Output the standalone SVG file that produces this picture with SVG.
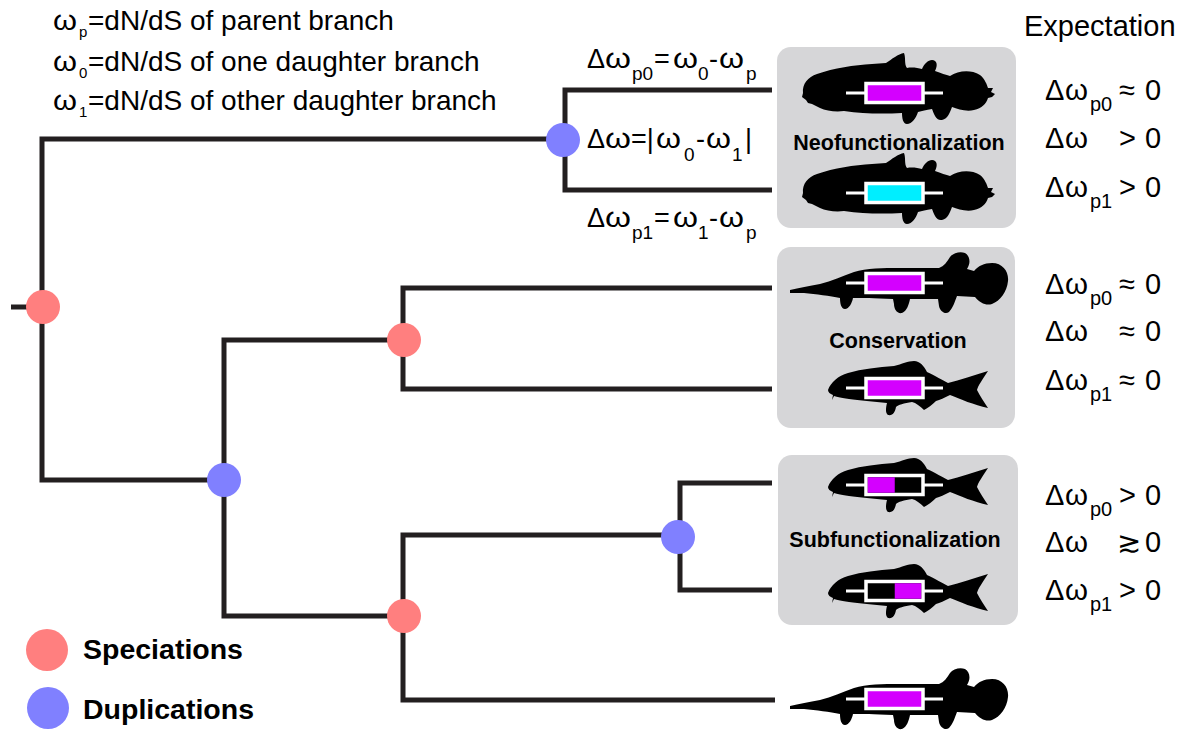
<svg xmlns="http://www.w3.org/2000/svg" width="1199" height="730" viewBox="0 0 1199 730">
  <style>
    text { font-family: "Liberation Sans", Arial, "DejaVu Sans", sans-serif; fill: #000; }
    .def { font-size: 28px; }
    .lbl { font-size: 27px; }
    .exp { font-size: 29px; }
    .sub { font-size: 15px; }
    .sub19 { font-size: 19px; }
    .sub20 { font-size: 20px; }
    .boxlbl { font-size: 21.5px; font-weight: bold; text-anchor: middle; }
    .leg { font-size: 28.5px; font-weight: bold; }
    .edge { fill: none; stroke: #231f20; stroke-width: 5; stroke-linejoin: miter; stroke-linecap: butt; }
    .spec { fill: #ff7f7f; }
    .dup { fill: #8080ff; }
    .panel { fill: #d6d6d8; }
    .fish { fill: #000; }
    .gline { stroke: #fff; stroke-width: 3; }
    .gbox { stroke: #fff; stroke-width: 3.5; }
  </style>
  <defs>
    <!-- coelacanth silhouette, origin at gene centre -->
    <path id="coel" class="fish" d="M-91,0 C-92,-9 -86,-16 -77,-19 C-60,-25 -40,-28 -22,-29 L-8,-30 C-2,-34 4,-39 10,-40 C12,-35 10,-29 13,-25 C18,-26 24,-25 28,-24 C30,-29 34,-33 38,-33 C43,-33 44,-28 41,-22 C47,-20 52,-18 56,-17 C64,-22 76,-24 86,-18 C91,-14 93,-8 94,-5 L99,-5 L97,-1 L101,1 L98,4 L94,5 C92,11 88,15 80,17 C72,19 64,16 58,14 C56,19 54,26 48,27 C42,28 40,21 38,16 C32,17 28,18 24,19 C22,25 18,31 13,31 C9,31 8,25 8,20 C-10,21 -30,21 -50,18 C-58,19 -68,18 -74,15 L-82,11 L-86,10 L-88,7 L-92,4 Z"/>
    <!-- long-snouted fish silhouette -->
    <path id="gar" class="fish" d="M-104,7 C-95,5 -85,3 -74,1 C-62,-2 -52,-7 -40,-11 C-28,-15 -10,-15 5,-15 L45,-15 C50,-17 53,-21 56,-26 C59,-30 66,-32 71,-30 C76,-27 77,-20 73,-14 L80,-12 C84,-17 90,-20 98,-20 C109,-20 115,-11 114,-2 C113,9 106,18 98,21 C92,23 86,20 81,14 L63,13 C61,18 59,25 55,29 C51,32 46,28 45,23 L44,16 L16,16 C15,21 13,28 8,30 C3,31 0,26 0,21 L-1,16 C-20,15 -34,15 -41,15 C-42,20 -45,26 -49,26 C-53,26 -54,20 -54,15 C-64,13 -78,11 -90,10 L-104,10 Z"/>
    <!-- zebrafish silhouette -->
    <path id="zebra" class="fish" d="M-66,2 C-63,-6 -56,-12 -46,-15 C-32,-19 -16,-21 0,-22 C8,-24 14,-27 20,-27 C26,-27 30,-22 33,-16 C42,-12 48,-8 54,-5 C66,-8 80,-13 94,-17 C88,-8 84,-2 83,2 C86,8 90,14 94,20 C80,17 66,11 56,7 C50,10 46,12 42,13 C38,17 34,20 30,22 C26,18 22,15 18,14 C10,15 4,17 2,19 C1,24 -1,28 -6,27 C-9,25 -8,19 -7,15 C-20,14 -35,12 -45,11 C-52,10 -57,9 -60,8 L-62,12 L-61,7 C-64,6 -66,4 -66,2 Z"/>
    <!-- gene models -->
    <g id="geneMag">
      <line class="gline" x1="-48" y1="0" x2="49" y2="0"/>
      <rect class="gbox" x="-28" y="-9.5" width="57" height="19" fill="#d400ff"/>
    </g>
    <g id="geneCyan">
      <line class="gline" x1="-48" y1="0" x2="49" y2="0"/>
      <rect class="gbox" x="-28" y="-9.5" width="57" height="19" fill="#00eeff"/>
    </g>
    <g id="geneLeft">
      <line class="gline" x1="-48" y1="0" x2="49" y2="0"/>
      <rect class="gbox" x="-28" y="-9.5" width="57" height="19" fill="#000"/>
      <rect x="-26.25" y="-7.75" width="27" height="15.5" fill="#d400ff"/>
    </g>
    <g id="geneRight">
      <line class="gline" x1="-48" y1="0" x2="49" y2="0"/>
      <rect class="gbox" x="-28" y="-9.5" width="57" height="19" fill="#000"/>
      <rect x="0.75" y="-7.75" width="26.5" height="15.5" fill="#d400ff"/>
    </g>
  </defs>

  <rect width="1199" height="730" fill="#fff"/>

  <!-- definitions of the rates -->
  <g id="legend-rates">
    <text class="def"><tspan x="53" y="30" textLength="24" lengthAdjust="spacingAndGlyphs">ω</tspan><tspan class="sub" x="79" y="37">p</tspan><tspan x="88" y="30">=dN/dS of parent branch</tspan></text>
    <text class="def"><tspan x="53" y="71" textLength="24" lengthAdjust="spacingAndGlyphs">ω</tspan><tspan class="sub" x="79" y="78">0</tspan><tspan x="88" y="71">=dN/dS of one daughter branch</tspan></text>
    <text class="def"><tspan x="53" y="110" textLength="24" lengthAdjust="spacingAndGlyphs">ω</tspan><tspan class="sub" x="79" y="117">1</tspan><tspan x="88" y="110">=dN/dS of other daughter branch</tspan></text>
  </g>

  <!-- tree edges -->
  <g id="connectors">
    <path class="edge" d="M11,307 H42"/>
    <path class="edge" d="M42,307 V139 H563"/>
    <path class="edge" d="M42,307 V480 H224"/>
    <path class="edge" d="M565,140 V90 H772"/>
    <path class="edge" d="M565,140 V190 H772"/>
    <path class="edge" d="M224,480 V340 H404"/>
    <path class="edge" d="M224,480 V616 H404"/>
    <path class="edge" d="M403,340 V288 H772"/>
    <path class="edge" d="M403,340 V389 H772"/>
    <path class="edge" d="M403,616 V535 H679"/>
    <path class="edge" d="M403,616 V700 H775"/>
    <path class="edge" d="M680,537 V483 H772"/>
    <path class="edge" d="M680,537 V590 H772"/>
  </g>

  <!-- branch rate labels -->
  <g id="branch-labels">
    <text class="lbl"><tspan x="587" y="68">Δ</tspan><tspan x="605" y="68" textLength="26" lengthAdjust="spacingAndGlyphs">ω</tspan><tspan class="sub19" x="632" y="80">p0</tspan><tspan x="654" y="68">=</tspan><tspan x="673" y="68" textLength="25" lengthAdjust="spacingAndGlyphs">ω</tspan><tspan class="sub19" x="698" y="80">0</tspan><tspan x="709" y="68">-</tspan><tspan x="719" y="68" textLength="25" lengthAdjust="spacingAndGlyphs">ω</tspan><tspan class="sub19" x="746" y="80">p</tspan></text>
    <text class="lbl"><tspan x="587" y="148">Δ</tspan><tspan x="605" y="148" textLength="26" lengthAdjust="spacingAndGlyphs">ω</tspan><tspan x="631" y="148">=|</tspan><tspan x="656" y="148" textLength="25" lengthAdjust="spacingAndGlyphs">ω</tspan><tspan class="sub19" x="684" y="161">0</tspan><tspan x="696" y="148">-</tspan><tspan x="706" y="148" textLength="25" lengthAdjust="spacingAndGlyphs">ω</tspan><tspan class="sub19" x="732" y="161">1</tspan><tspan x="745" y="148">|</tspan></text>
    <text class="lbl"><tspan x="587" y="227">Δ</tspan><tspan x="605" y="227" textLength="26" lengthAdjust="spacingAndGlyphs">ω</tspan><tspan class="sub19" x="632" y="239">p1</tspan><tspan x="654" y="227">=</tspan><tspan x="673" y="227" textLength="25" lengthAdjust="spacingAndGlyphs">ω</tspan><tspan class="sub19" x="698" y="239">1</tspan><tspan x="709" y="227">-</tspan><tspan x="719" y="227" textLength="25" lengthAdjust="spacingAndGlyphs">ω</tspan><tspan class="sub19" x="746" y="239">p</tspan></text>
  </g>

  <!-- internal nodes -->
  <g id="node-root"><circle class="spec" cx="43" cy="307" r="17"/></g>
  <g id="node-dup-neo"><circle class="dup" cx="563" cy="140" r="17"/></g>
  <g id="node-dup-main"><circle class="dup" cx="224" cy="480" r="17"/></g>
  <g id="node-spec-cons"><circle class="spec" cx="404" cy="340" r="17"/></g>
  <g id="node-spec-sub"><circle class="spec" cx="404" cy="616" r="17"/></g>
  <g id="node-dup-sub"><circle class="dup" cx="678" cy="537" r="17"/></g>

  <!-- outcome panels with leaf species -->
  <g id="panel-neo">
    <rect class="panel" x="777" y="47" width="239" height="181" rx="14"/>
    <use href="#coel" transform="translate(894,93)"/>
    <use href="#geneMag" transform="translate(894,93)"/>
    <text class="boxlbl" x="899" y="150">Neofunctionalization</text>
    <use href="#coel" transform="translate(894,193)"/>
    <use href="#geneCyan" transform="translate(894,193)"/>
  </g>
  <g id="panel-cons">
    <rect class="panel" x="777" y="247" width="238" height="181" rx="14"/>
    <use href="#gar" transform="translate(894,283)"/>
    <use href="#geneMag" transform="translate(894,283)"/>
    <text class="boxlbl" x="898" y="348">Conservation</text>
    <use href="#zebra" transform="translate(894,388)"/>
    <use href="#geneMag" transform="translate(894,388)"/>
  </g>
  <g id="panel-sub">
    <rect class="panel" x="778" y="455" width="240" height="170" rx="14"/>
    <use href="#zebra" transform="translate(894,485)"/>
    <use href="#geneLeft" transform="translate(894,485)"/>
    <text class="boxlbl" x="895" y="547">Subfunctionalization</text>
    <use href="#zebra" transform="translate(894,591)"/>
    <use href="#geneRight" transform="translate(894,591)"/>
  </g>
  <g id="leaf-outgroup">
    <use href="#gar" transform="translate(894,699)"/>
    <use href="#geneMag" transform="translate(894,699)"/>
  </g>

  <!-- expected rate differences -->
  <g id="expectation">
    <text class="exp" x="1024" y="36">Expectation</text>
    <text class="exp"><tspan x="1045" y="100">Δ</tspan><tspan x="1065" y="100" textLength="23" lengthAdjust="spacingAndGlyphs">ω</tspan><tspan class="sub20" x="1090" y="111">p0</tspan><tspan x="1119" y="100">≈</tspan><tspan x="1145" y="100">0</tspan></text>
    <text class="exp"><tspan x="1045" y="148">Δ</tspan><tspan x="1065" y="148" textLength="23" lengthAdjust="spacingAndGlyphs">ω</tspan><tspan x="1119" y="148">&gt;</tspan><tspan x="1145" y="148">0</tspan></text>
    <text class="exp"><tspan x="1045" y="197">Δ</tspan><tspan x="1065" y="197" textLength="23" lengthAdjust="spacingAndGlyphs">ω</tspan><tspan class="sub20" x="1090" y="208">p1</tspan><tspan x="1119" y="197">&gt;</tspan><tspan x="1145" y="197">0</tspan></text>

    <text class="exp"><tspan x="1045" y="294">Δ</tspan><tspan x="1065" y="294" textLength="23" lengthAdjust="spacingAndGlyphs">ω</tspan><tspan class="sub20" x="1090" y="305">p0</tspan><tspan x="1119" y="294">≈</tspan><tspan x="1145" y="294">0</tspan></text>
    <text class="exp"><tspan x="1045" y="341">Δ</tspan><tspan x="1065" y="341" textLength="23" lengthAdjust="spacingAndGlyphs">ω</tspan><tspan x="1119" y="341">≈</tspan><tspan x="1145" y="341">0</tspan></text>
    <text class="exp"><tspan x="1045" y="390">Δ</tspan><tspan x="1065" y="390" textLength="23" lengthAdjust="spacingAndGlyphs">ω</tspan><tspan class="sub20" x="1090" y="401">p1</tspan><tspan x="1119" y="390">≈</tspan><tspan x="1145" y="390">0</tspan></text>

    <text class="exp"><tspan x="1045" y="505">Δ</tspan><tspan x="1065" y="505" textLength="23" lengthAdjust="spacingAndGlyphs">ω</tspan><tspan class="sub20" x="1090" y="516">p0</tspan><tspan x="1119" y="505">&gt;</tspan><tspan x="1145" y="505">0</tspan></text>
    <text class="exp"><tspan x="1045" y="552">Δ</tspan><tspan x="1065" y="552" textLength="23" lengthAdjust="spacingAndGlyphs">ω</tspan><tspan x="1117" y="552">≳</tspan><tspan x="1145" y="552">0</tspan></text>
    <text class="exp"><tspan x="1045" y="600">Δ</tspan><tspan x="1065" y="600" textLength="23" lengthAdjust="spacingAndGlyphs">ω</tspan><tspan class="sub20" x="1090" y="611">p1</tspan><tspan x="1119" y="600">&gt;</tspan><tspan x="1145" y="600">0</tspan></text>
  </g>

  <!-- node legend -->
  <g id="legend-nodes">
    <circle class="spec" cx="47" cy="650" r="21"/>
    <text class="leg" x="83" y="659">Speciations</text>
    <circle class="dup" cx="48" cy="708" r="21"/>
    <text class="leg" x="83" y="719">Duplications</text>
  </g>
</svg>
